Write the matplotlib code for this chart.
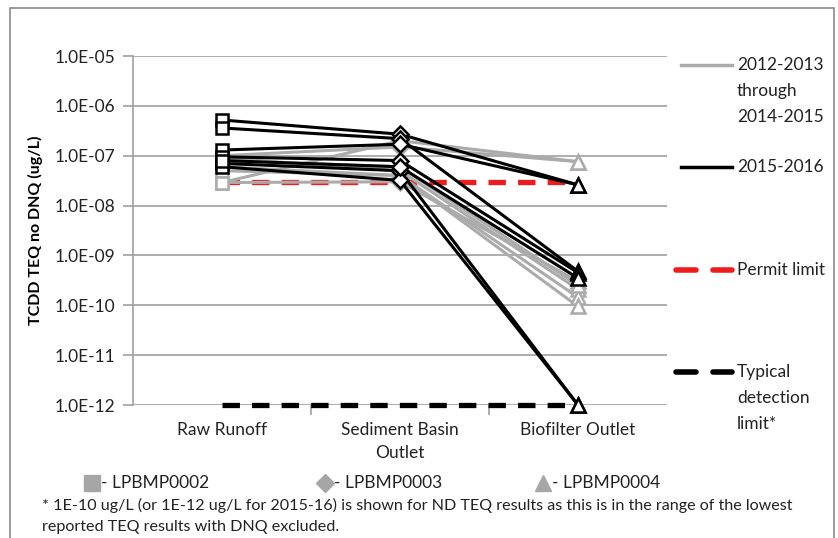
import numpy as np
import matplotlib
matplotlib.use("Agg")
import matplotlib.pyplot as plt
from matplotlib.lines import Line2D
from matplotlib.patches import Rectangle

plt.rcParams['font.family'] = ['Lato', 'DejaVu Sans']

categories = ["Raw Runoff", "Sediment Basin\nOutlet", "Biofilter Outlet"]
ytick_vals = [1e-12, 1e-11, 1e-10, 1e-9, 1e-8, 1e-7, 1e-6, 1e-5]
ytick_labels = ["1.0E-12", "1.0E-11", "1.0E-10", "1.0E-09", "1.0E-08", "1.0E-07", "1.0E-06", "1.0E-05"]

# 2012-2013 through 2014-2015 events (raw, sediment, biofilter)
gray_runs = [
    [2.9e-8, 2.0e-7, 7.6e-8],
    [1.0e-7, 1.5e-7, 7.6e-8],
    [9.0e-8, 5.0e-8, 2.1e-10],
    [6.0e-8, 4.0e-8, 1.45e-10],
    [5.0e-8, 4.0e-8, 9.5e-11],
    [2.9e-8, 3.0e-8, 3.0e-10],
    [8.0e-8, 6.0e-8, 2.5e-10],
]
# 2015-2016 events
black_runs = [
    [5.2e-7, 2.7e-7, 2.6e-8],
    [3.6e-7, 2.2e-7, 4.8e-10],
    [1.3e-7, 1.7e-7, 2.6e-8],
    [9.5e-8, 8.0e-8, 4.5e-10],
    [7.0e-8, 5.0e-8, 1.0e-12],
    [6.0e-8, 3.2e-8, 1.0e-12],
    [8.0e-8, 6.0e-8, 3.5e-10],
]
permit_limit = 3.0e-8
detection_limit = 1.0e-12
site_labels = ["- LPBMP0002", "- LPBMP0003", "- LPBMP0004"]

GRAY = "#ababab"
TXT = '#222222'
W, H = 838, 538

def fx(px):
    return px / W

def fy(py):
    return 1 - py / H

fig = plt.figure(figsize=(W / 100, H / 100), dpi=100)
ax = fig.add_axes([fx(133), fy(405), fx(667) - fx(133), fy(56) - fy(405)])

x = np.arange(len(categories))
markers = ['s', 'D', '^']
msizes = [9, 8.5, 10]

def draw_run(vals, color, z):
    ax.plot(x, vals, color=color, lw=2.2, zorder=z, solid_capstyle='round', clip_on=False)
    for i in range(len(x)):
        ax.plot(x[i], vals[i], marker=markers[i], ms=msizes[i], mfc='white',
                mec=color, mew=1.8, ls='none', zorder=z + 0.5, clip_on=False)

ax.plot(x, [permit_limit] * 3, color='#ee1c1c', lw=3.8, dashes=(3.3, 2.3), zorder=2)
ax.plot(x, [detection_limit] * 3, color='black', lw=3.8, dashes=(3.3, 2.3), zorder=2,
        clip_on=False)

for r in gray_runs:
    draw_run(r, GRAY, 3)
for r in black_runs:
    draw_run(r, 'black', 5)

ax.set_yscale('log')
ax.set_ylim(1e-12, 1e-5)
ax.set_xlim(-0.5, 2.5)
ax.set_yticks(ytick_vals)
ax.set_yticklabels(ytick_labels, fontsize=12.5, color=TXT)
ax.minorticks_off()
ax.yaxis.grid(True, color='#a0a0a0', lw=1.2)
ax.set_axisbelow(True)
ax.tick_params(axis='y', length=7, color='#a0a0a0', width=1.2, pad=6)

ax.set_xticks(x)
ax.set_xticklabels(categories, fontsize=12.5, color=TXT, linespacing=1.55)
ax.set_xticks([0.5, 1.5], minor=True)
ax.tick_params(axis='x', which='major', length=0, pad=12)
ax.tick_params(axis='x', which='minor', length=7, color='#a0a0a0', width=1.2)

for s in ['top', 'right', 'bottom']:
    ax.spines[s].set_visible(False)
ax.spines['left'].set_color('#a0a0a0')
ax.spines['left'].set_linewidth(1.2)

ax.set_ylabel("TCDD TEQ no DNQ (ug/L)", fontsize=11.5, fontweight='bold', labelpad=8)

# right-hand legend
def leg_line(y, color, dashed=False):
    if dashed:
        fig.add_artist(Line2D([fx(676), fx(696)], [fy(y), fy(y)], color=color, lw=4,
                              solid_capstyle='round'))
        fig.add_artist(Line2D([fx(713), fx(732)], [fy(y), fy(y)], color=color, lw=4,
                              solid_capstyle='round'))
    else:
        fig.add_artist(Line2D([fx(681), fx(732)], [fy(y), fy(y)], color=color, lw=2.5))

def leg_text(y, lines):
    for k, s in enumerate(lines):
        fig.text(fx(737), fy(y + 26 * k), s, fontsize=12.5, va='center', color=TXT)

leg_line(65, GRAY)
leg_text(65, ["2012-2013", "through", "2014-2015"])
leg_line(167, 'black')
leg_text(167, ["2015-2016"])
leg_line(270, '#ee1c1c', dashed=True)
leg_text(270, ["Permit limit"])
leg_line(372, 'black', dashed=True)
leg_text(372, ["Typical", "detection", "limit*"])

# site marker legend
site_x = [92, 325, 543]
for mk, ms, sx, lab in zip(['s', 'D', '^'], [11, 9, 12], site_x, site_labels):
    fig.add_artist(Line2D([fx(sx)], [fy(483)], marker=mk, ms=ms, color='#a6a6a6', ls='none'))
    fig.text(fx(sx + 9), fy(483), lab, fontsize=12.5, va='center', color=TXT)

fig.text(fx(42), fy(505), "* 1E-10 ug/L (or 1E-12 ug/L for 2015-16) is shown for ND TEQ results as this is in the range of the lowest",
         fontsize=11.6, va='center', color=TXT)
fig.text(fx(42), fy(527), "reported TEQ results with DNQ excluded.", fontsize=11.6, va='center', color=TXT)

fig.add_artist(Rectangle((fx(10), fy(560)), fx(834) - fx(10), fy(8) - fy(560), fill=False,
                         edgecolor='#8a8a8a', lw=1.2))

fig.savefig("out.png", dpi=100)
